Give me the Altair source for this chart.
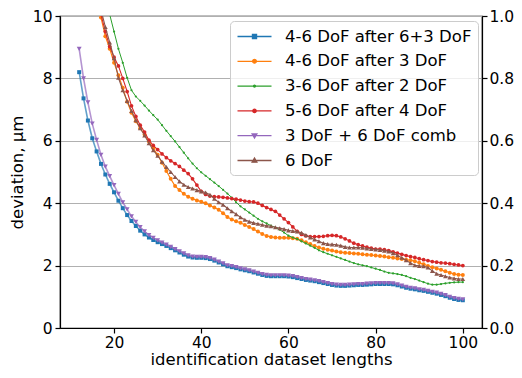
import altair as alt
import pandas as pd

x_vals = list(range(12, 101))

names = ["4-6 DoF after 6+3 DoF", "4-6 DoF after 3 DoF", "3-6 DoF after 2 DoF",
         "5-6 DoF after 4 DoF", "3 DoF + 6 DoF comb", "6 DoF"]
colors = ["#1f77b4", "#ff7f0e", "#2ca02c", "#d62728", "#9467bd", "#8c564b"]

blue = [8.20, 7.36, 6.65, 6.08, 5.66, 5.26, 4.92, 4.62, 4.35, 4.08, 3.84, 3.62, 3.43, 3.27, 3.12,
        3.00, 2.90, 2.82, 2.75, 2.69, 2.63, 2.56, 2.49, 2.42, 2.35, 2.29, 2.26, 2.25, 2.25, 2.24,
        2.21, 2.16, 2.10, 2.04, 1.98, 1.95, 1.92, 1.88, 1.85, 1.82, 1.78, 1.74, 1.70, 1.67, 1.66,
        1.66, 1.66, 1.66, 1.65, 1.63, 1.60, 1.57, 1.54, 1.52, 1.50, 1.47, 1.44, 1.41, 1.38, 1.36,
        1.35, 1.35, 1.36, 1.37, 1.38, 1.38, 1.39, 1.40, 1.41, 1.41, 1.41, 1.41, 1.40, 1.37, 1.33,
        1.29, 1.26, 1.24, 1.21, 1.19, 1.16, 1.13, 1.10, 1.06, 1.02, 0.97, 0.93, 0.90, 0.89]

orange = [15.5, 14.0, 12.7, 11.6, 10.7, 9.95, 9.35, 8.95, 8.50, 8.10, 7.70, 7.25, 6.90, 6.63, 6.40,
          6.20, 5.98, 5.76, 5.55, 5.30, 5.03, 4.78, 4.55, 4.42, 4.30, 4.21, 4.14, 4.09, 4.05, 4.00,
          3.93, 3.86, 3.79, 3.68, 3.56, 3.48, 3.42, 3.37, 3.30, 3.24, 3.17, 3.09, 3.01, 2.95, 2.92,
          2.90, 2.89, 2.89, 2.89, 2.88, 2.86, 2.81, 2.75, 2.69, 2.63, 2.58, 2.54, 2.51, 2.48, 2.45,
          2.43, 2.41, 2.40, 2.39, 2.38, 2.36, 2.35, 2.34, 2.32, 2.31, 2.29, 2.27, 2.25, 2.23, 2.21,
          2.19, 2.17, 2.14, 2.09, 2.04, 1.99, 1.95, 1.91, 1.87, 1.82, 1.77, 1.73, 1.71, 1.70]

green = [17.0, 15.5, 14.2, 13.1, 12.1, 11.3, 10.6, 10.05, 9.50, 8.95, 8.50, 8.02, 7.62, 7.42, 7.28,
         7.13, 6.97, 6.82, 6.68, 6.50, 6.32, 6.15, 5.98, 5.80, 5.62, 5.44, 5.27, 5.12, 4.99, 4.88,
         4.77, 4.66, 4.55, 4.43, 4.31, 4.18, 4.03, 3.90, 3.80, 3.70, 3.60, 3.50, 3.42, 3.35, 3.28,
         3.22, 3.15, 3.06, 2.96, 2.90, 2.85, 2.78, 2.71, 2.64, 2.57, 2.49, 2.43, 2.38, 2.33, 2.28,
         2.23, 2.18, 2.13, 2.08, 2.04, 2.01, 1.98, 1.94, 1.90, 1.86, 1.81, 1.77, 1.75, 1.73, 1.70,
         1.66, 1.61, 1.57, 1.52, 1.47, 1.42, 1.39, 1.39, 1.41, 1.43, 1.45, 1.46, 1.47, 1.47]

red = [15.0, 13.6, 12.4, 11.4, 10.6, 10.05, 9.50, 9.02, 8.68, 8.40, 8.00, 7.58, 7.12, 6.78, 6.50,
       6.28, 6.02, 5.85, 5.72, 5.58, 5.46, 5.36, 5.27, 5.18, 5.06, 4.95, 4.78, 4.58, 4.38, 4.28,
       4.23, 4.21, 4.20, 4.19, 4.17, 4.15, 4.13, 4.10, 4.07, 4.05, 4.04, 4.00, 3.93, 3.86, 3.80,
       3.74, 3.62, 3.50, 3.38, 3.24, 3.10, 3.00, 2.95, 2.93, 2.93, 2.93, 2.94, 2.96, 2.97, 2.96,
       2.92, 2.86, 2.79, 2.72, 2.67, 2.63, 2.59, 2.56, 2.53, 2.53, 2.51, 2.48, 2.44, 2.40, 2.36,
       2.32, 2.29, 2.26, 2.22, 2.19, 2.16, 2.13, 2.11, 2.09, 2.08, 2.06, 2.04, 2.02, 2.00]

purple = [8.95, 8.00, 7.23, 6.55, 6.03, 5.55, 5.17, 4.87, 4.58, 4.30, 4.03, 3.80, 3.58, 3.40, 3.23,
          3.10, 2.98, 2.89, 2.81, 2.74, 2.67, 2.60, 2.53, 2.46, 2.39, 2.33, 2.29, 2.28, 2.28, 2.27,
          2.24, 2.19, 2.13, 2.07, 2.01, 1.98, 1.95, 1.91, 1.88, 1.85, 1.81, 1.77, 1.73, 1.70, 1.69,
          1.69, 1.69, 1.69, 1.68, 1.66, 1.63, 1.60, 1.57, 1.55, 1.53, 1.50, 1.47, 1.44, 1.41, 1.39,
          1.38, 1.38, 1.39, 1.40, 1.41, 1.41, 1.42, 1.43, 1.44, 1.44, 1.44, 1.44, 1.43, 1.40, 1.36,
          1.32, 1.29, 1.27, 1.24, 1.22, 1.19, 1.16, 1.13, 1.09, 1.05, 1.00, 0.96, 0.93, 0.92]

brown = [16.0, 14.5, 13.2, 12.0, 11.0, 10.2, 9.65, 9.15, 8.65, 8.02, 7.62, 7.28, 6.96, 6.66, 6.40,
         6.17, 5.92, 5.70, 5.52, 5.33, 5.16, 5.00, 4.84, 4.70, 4.59, 4.52, 4.47, 4.42, 4.38, 4.34,
         4.27, 4.14, 4.03, 3.95, 3.84, 3.74, 3.65, 3.55, 3.47, 3.41, 3.37, 3.34, 3.31, 3.28, 3.26,
         3.23, 3.20, 3.17, 3.13, 3.11, 3.09, 3.05, 2.98, 2.90, 2.84, 2.78, 2.72, 2.69, 2.68, 2.67,
         2.64, 2.60, 2.58, 2.58, 2.58, 2.57, 2.55, 2.53, 2.52, 2.50, 2.48, 2.45, 2.40, 2.33, 2.25,
         2.17, 2.08, 2.01, 1.99, 1.98, 1.94, 1.83, 1.74, 1.70, 1.66, 1.62, 1.59, 1.57, 1.57]

series_vals = [blue, orange, green, red, purple, brown]
marker_shapes = ["square", "circle", "circle", "circle", "triangle-down", "triangle-up"]
marker_sizes = [16, 16, 5, 14, 24, 22]
line_widths = [1.6, 1.1, 1.0, 1.1, 1.6, 1.1]
line_opac = [0.7, 1.0, 1.0, 1.0, 0.7, 1.0]

legend_paths = [
    "M-2,0H2M-0.24,-0.24H0.24V0.24H-0.24Z",
    "M-2,0H2M-0.22,0A0.22,0.22 0 1,0 0.22,0A0.22,0.22 0 1,0 -0.22,0Z",
    "M-2,0H2M-0.12,0A0.12,0.12 0 1,0 0.12,0A0.12,0.12 0 1,0 -0.12,0Z",
    "M-2,0H2M-0.2,0A0.2,0.2 0 1,0 0.2,0A0.2,0.2 0 1,0 -0.2,0Z",
    "M-2,0H2M-0.28,-0.2L0.28,-0.2L0,0.28Z",
    "M-2,0H2M-0.28,0.2L0.28,0.2L0,-0.28Z",
]

rows = []
for n, vals in zip(names, series_vals):
    for xv, yv in zip(x_vals, vals):
        rows.append({"x": xv, "y": yv, "series": n})
df = pd.DataFrame(rows)

xscale = alt.Scale(domain=[7.6, 104.4], nice=False, zero=False)
yscale = alt.Scale(domain=[0, 10], nice=False)
cscale = alt.Scale(domain=names, range=colors)

xaxis = alt.Axis(values=[20, 40, 60, 80, 100], title="identification dataset lengths",
                 grid=False, titlePadding=1, labelPadding=2)
yaxis = alt.Axis(values=[0, 2, 4, 6, 8, 10], title="deviation, μm", grid=True,
                 titlePadding=7)

layers = []
for i, n in enumerate(names):
    sub = df[df["series"] == n]
    base = alt.Chart(sub)
    ln = base.mark_line(clip=True, strokeWidth=line_widths[i], opacity=line_opac[i],
                        color=colors[i]).encode(
        x=alt.X("x:Q", scale=xscale, axis=xaxis),
        y=alt.Y("y:Q", scale=yscale, axis=yaxis),
    )
    pt = base.mark_point(clip=True, filled=True, opacity=1, shape=marker_shapes[i],
                         size=marker_sizes[i], color=colors[i]).encode(
        x=alt.X("x:Q", scale=xscale),
        y=alt.Y("y:Q", scale=yscale),
    )
    layers += [ln, pt]

leg_df = pd.DataFrame({"series": names})
leg = alt.Chart(leg_df).mark_point(clip=True, filled=True, opacity=1, strokeWidth=1.3).encode(
    x=alt.value(-200),
    y=alt.value(-200),
    fill=alt.Fill("series:N", scale=cscale, title=None),
    stroke=alt.Stroke("series:N", scale=cscale, title=None),
    shape=alt.Shape("series:N", scale=alt.Scale(domain=names, range=legend_paths), title=None),
)

right_df = pd.DataFrame({"r": [0.0, 1.0]})
right = alt.Chart(right_df).mark_point(opacity=0).encode(
    y=alt.Y("r:Q", scale=alt.Scale(domain=[0, 1], nice=False),
            axis=alt.Axis(orient="right", values=[0, 0.2, 0.4, 0.6, 0.8, 1.0], format=".1f",
                          title=None, grid=False, labelPadding=2)),
)

main = alt.layer(*layers, leg)
chart = alt.layer(main, right).resolve_scale(y="independent").properties(
    width=422, height=312,
    autosize=alt.AutoSizeParams(type="none"),
    padding={"left": 52, "top": 8, "right": 32, "bottom": 42},
).configure_view(
    stroke="black", strokeWidth=1.2
).configure_axis(
    labelFont="DejaVu Sans", titleFont="DejaVu Sans", labelFontSize=15.5, titleFontSize=16.5,
    titleFontWeight="normal", labelColor="black", titleColor="black",
    domainColor="black", tickColor="black", domainWidth=1.2, tickWidth=1.2, tickSize=5,
    labelPadding=3, gridColor="#b0b0b0", gridWidth=1,
).configure_legend(
    orient="none", legendX=170, legendY=5,
    labelFont="DejaVu Sans", labelFontSize=16.5, labelColor="black",
    symbolSize=289, symbolOffset=9, labelOffset=21, rowPadding=6.8,
    padding=6, fillColor="rgba(255,255,255,0.8)", strokeColor="#cccccc",
    cornerRadius=4, symbolStrokeWidth=1.3, labelLimit=400,
)

chart.save("out.html", embed_options={"renderer": "svg", "actions": False})
